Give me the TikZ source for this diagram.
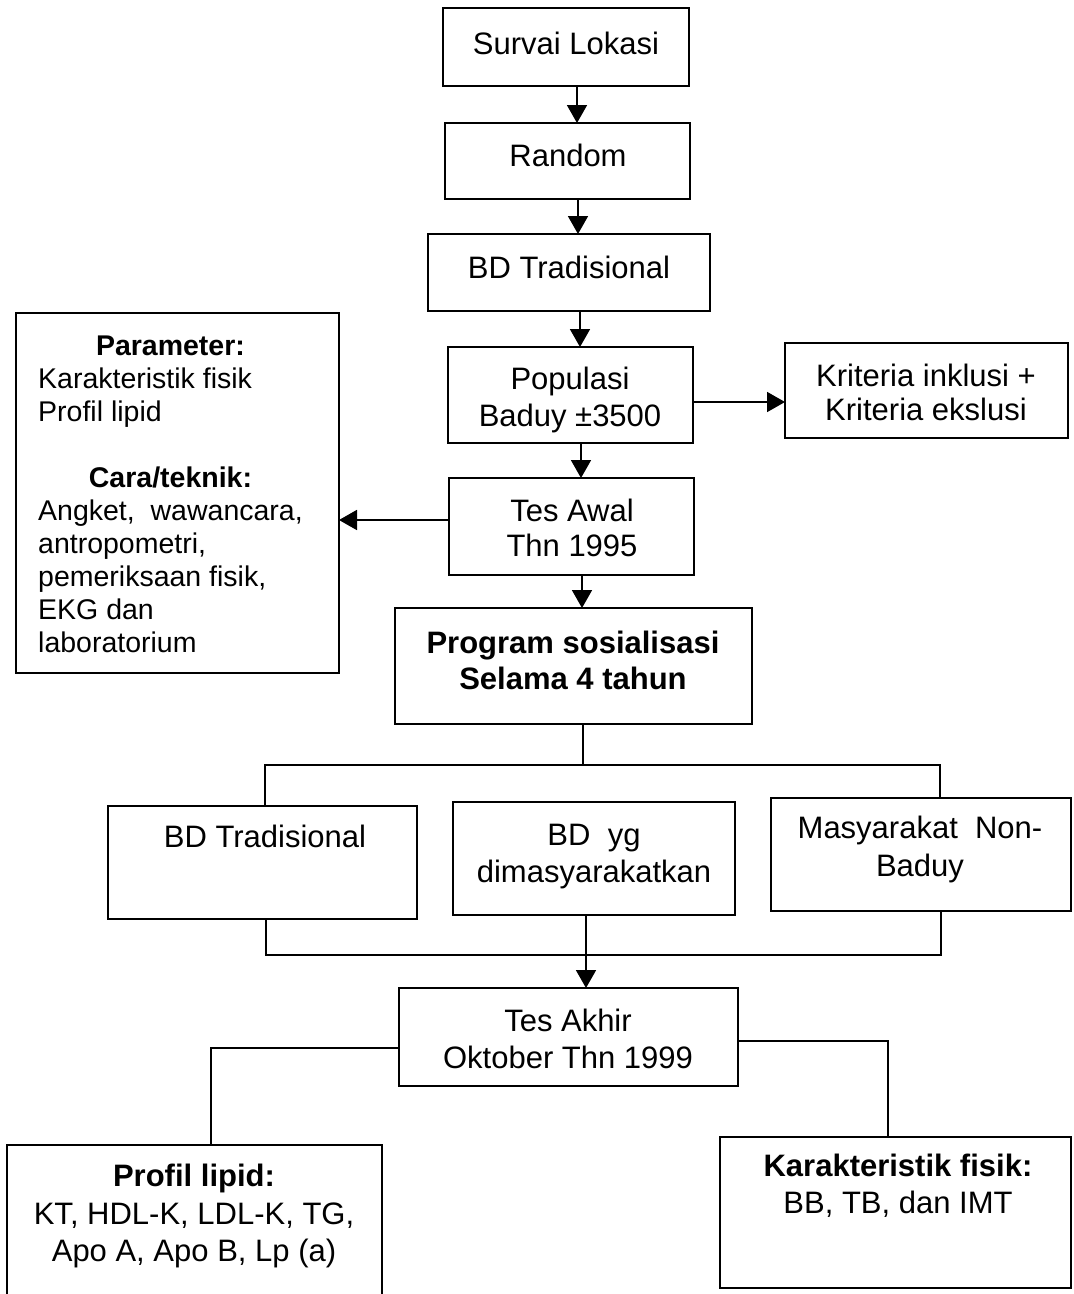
\documentclass[tikz,border=0pt]{standalone}
\usepackage{fontspec}
\setmainfont{Liberation Sans}
\usetikzlibrary{arrows.meta,calc}
\begin{document}
\begin{tikzpicture}[x=1pt,y=-1pt,
  box/.style={draw,line width=1.8pt,inner sep=0pt,outer sep=0pt,anchor=north west},
  txt/.style={inner sep=0pt,anchor=north,align=center,font=\fontsize{31}{37}\selectfont},
  arr/.style={line width=1.8pt,-{Triangle[length=18pt,width=20pt]}},
  ln/.style={line width=1.8pt}]
\useasboundingbox (0,0) rectangle (1074,1294);
\clip (0,0) rectangle (1074,1294);
% boxes
\node[box,line width=2.6pt,minimum width=246pt,minimum height=78pt] (surv) at (443,8) {};
\node[box,minimum width=245pt,minimum height=76pt] (rand) at (445,123) {};
\node[box,minimum width=282pt,minimum height=77pt] (bdt) at (428,234) {};
\node[box,minimum width=245pt,minimum height=96pt] (pop) at (448,347) {};
\node[box,minimum width=283pt,minimum height=95pt] (krit) at (785,343) {};
\node[box,minimum width=245pt,minimum height=97pt] (awal) at (449,478) {};
\node[box,minimum width=357pt,minimum height=116pt] (prog) at (395,608) {};
\node[box,minimum width=323pt,minimum height=360pt] (param) at (16,313) {};
\node[box,minimum width=309pt,minimum height=113pt] (bdtwo) at (108,806) {};
\node[box,minimum width=282pt,minimum height=113pt] (bdyg) at (453,802) {};
\node[box,minimum width=300pt,minimum height=113pt] (nonb) at (771,798) {};
\node[box,minimum width=339pt,minimum height=98pt] (akhir) at (399,988) {};
\node[box,minimum width=375pt,minimum height=152pt] (lipid) at (7,1145) {};
\node[box,minimum width=351pt,minimum height=151pt] (fisik) at (720,1137) {};
% texts
\node[txt] (survt) at (566,32) {Survai Lokasi};
\node[txt] (randt) at (568,144) {Random};
\node[txt] (bdtt) at (569,256) {BD Tradisional};
\node[txt] (popt) at (570,367) {Populasi\\Baduy ±3500};
\node[txt,font=\fontsize{31}{34}\selectfont] (kritt) at (926,364) {Kriteria inklusi +\\Kriteria ekslusi};
\node[txt,font=\fontsize{31}{35}\selectfont] (awalt) at (572,499) {Tes Awal\\Thn 1995};
\node[txt,font=\fontsize{31}{36}\selectfont\bfseries] (progt) at (573,631) {Program sosialisasi\\Selama 4 tahun};
\node[txt] (bdtwot) at (265,825) {BD Tradisional};
\node[txt] (bdygt) at (594,824) {BD\ \ yg\\dimasyarakatkan};
\node[txt,font=\fontsize{31}{38}\selectfont] (nonbt) at (920,816) {Masyarakat\ \ Non-\\Baduy};
\node[txt] (akhirt) at (568,1009) {Tes Akhir\\Oktober Thn 1999};
\node[txt,font=\fontsize{31}{37.5}\selectfont] (lipidt) at (194,1164) {\textbf{Profil lipid:}\\KT, HDL-K, LDL-K, TG,\\Apo A, Apo B, Lp (a)};
\node[txt] (fisikt) at (898,1154) {\textbf{Karakteristik fisik:}\\BB, TB, dan IMT};
\node[anchor=north west,inner sep=0pt,font=\fontsize{28.5}{33}\selectfont] (paramt) at (38,332) {%
\begin{tabular}{@{}l@{}}
\multicolumn{1}{@{}c@{}}{\textbf{Parameter:}}\\
Karakteristik fisik\\
Profil lipid\\
\\
\multicolumn{1}{@{}c@{}}{\textbf{Cara/teknik:}}\\
Angket,\ \ wawancara,\\
antropometri,\\
pemeriksaan fisik,\\
EKG dan\\
laboratorium
\end{tabular}};
% helper coordinates
\coordinate (ca) at (577,0);
\coordinate (cb) at (578,0);
\coordinate (cc) at (580,0);
\coordinate (cd) at (581,0);
\coordinate (ce) at (582,0);
\coordinate (yk) at (0,402);
\coordinate (yp) at (0,520);
\coordinate (bt) at (583,765);
\coordinate (busL) at (265,765);
\coordinate (busR) at (940,765);
\coordinate (bbL) at (266,955);
\coordinate (bbR) at (941,955);
\coordinate (xm) at (586,0);
\coordinate (aL) at (211,1048);
\coordinate (aR) at (888,1041);
% connectors
\draw[arr] (surv.south -| ca) -- (rand.north -| ca);
\draw[arr] (rand.south -| cb) -- (bdt.north -| cb);
\draw[arr] (bdt.south -| cc) -- (pop.north -| cc);
\draw[arr] (pop.south -| cd) -- (awal.north -| cd);
\draw[arr] (awal.south -| ce) -- (prog.north -| ce);
\draw[arr] (pop.east |- yk) -- (krit.west |- yk);
\draw[arr] (awal.west |- yp) -- (param.east |- yp);
\draw[ln] (prog.south -| bt) -- (bt);
\draw[ln] (bdtwo.north -| busL) -- (busL) -- (busR) -- (nonb.north -| busR);
\draw[ln] (bdtwo.south -| bbL) -- (bbL) -- (bbR) -- (nonb.south -| bbR);
\draw[arr] (bdyg.south -| xm) -- (akhir.north -| xm);
\draw[ln] (akhir.west |- aL) -- (aL) -- (lipid.north -| aL);
\draw[ln] (akhir.east |- aR) -- (aR) -- (fisik.north -| aR);
\end{tikzpicture}
\end{document}
